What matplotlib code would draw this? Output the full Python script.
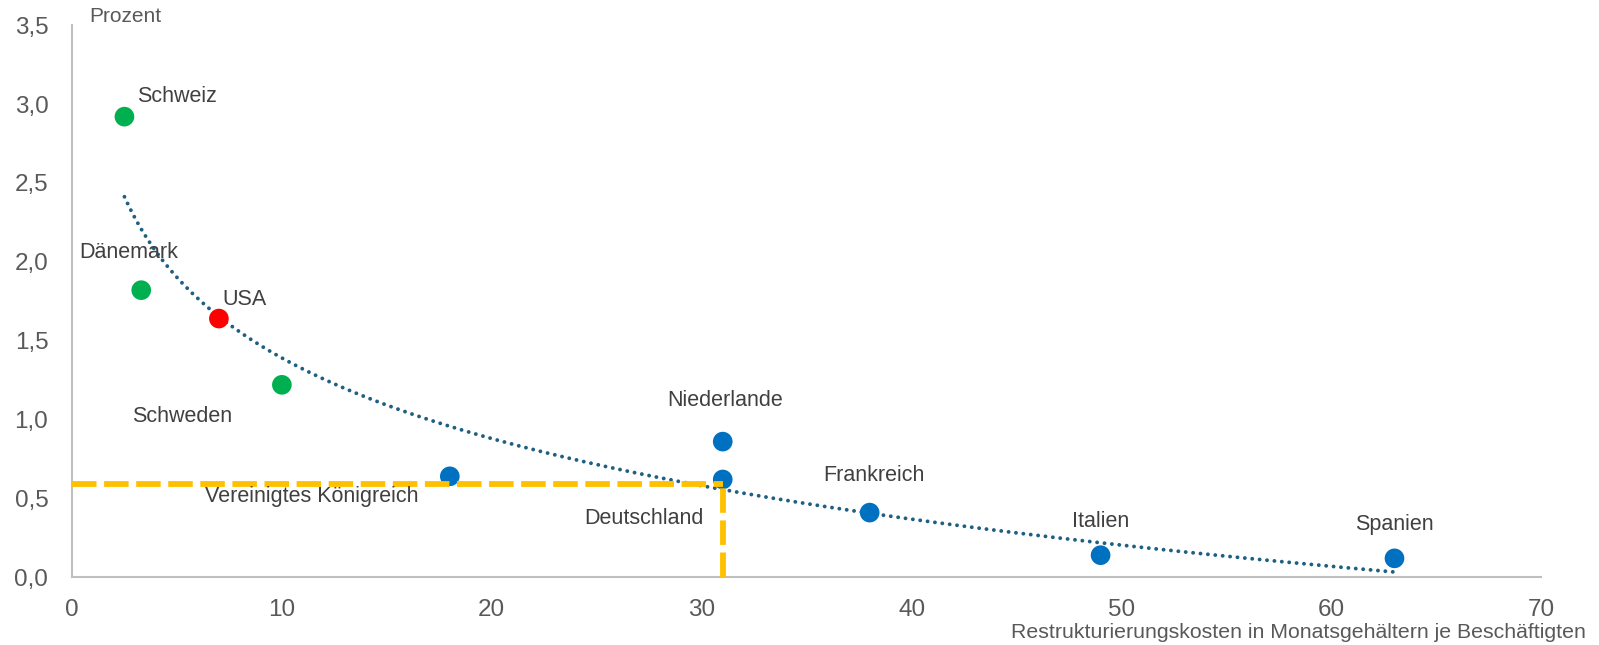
import numpy as np
import matplotlib
matplotlib.use('Agg')
import matplotlib.pyplot as plt

# Restrukturierungskosten (Monatsgehälter) vs. Prozent
countries = ['Schweiz', 'Dänemark', 'USA', 'Schweden', 'Vereinigtes Königreich',
             'Niederlande', 'Deutschland', 'Frankreich', 'Italien', 'Spanien']
kosten = [2.5, 3.3, 7.0, 10.0, 18.0, 31.0, 31.0, 38.0, 49.0, 63.0]
prozent = [2.92, 1.82, 1.64, 1.22, 0.64, 0.86, 0.62, 0.41, 0.14, 0.12]
groups = ['g', 'g', 'r', 'g', 'b', 'b', 'b', 'b', 'b', 'b']

# label anchor (x, y, ha)
label_pos = {'Schweiz': (3.1, 3.05, 'left'),
             'Dänemark': (0.35, 2.06, 'left'),
             'USA': (7.15, 1.76, 'left'),
             'Schweden': (2.85, 1.02, 'left'),
             'Vereinigtes Königreich': (6.35, 0.51, 'left'),
             'Niederlande': (31.1, 1.12, 'center'),
             'Deutschland': (30.1, 0.375, 'right'),
             'Frankreich': (38.2, 0.645, 'center'),
             'Italien': (49.0, 0.355, 'center'),
             'Spanien': (63.0, 0.335, 'center')}

ref_x, ref_y = 31.0, 0.59

colors = {'g': '#00B050', 'r': '#FF0000', 'b': '#0070C0'}

plt.rcParams.update({'font.family': ['Liberation Sans', 'DejaVu Sans'],
                     'font.size': 15})

fig = plt.figure(figsize=(15.99, 6.45), dpi=100)
ax = fig.add_axes([0.045, 0.105, 0.919, 0.856])

x = np.array(kosten)
y = np.array(prozent)

# logarithmic trend line (as in Excel)
b, a = np.polyfit(np.log(x), y, 1)
xt = np.linspace(x.min(), x.max(), 300)
ax.plot(xt, a + b * np.log(xt), color='#1F5F82', lw=2.8,
        linestyle=(0, (0.01, 1.9)), dash_capstyle='round', zorder=2)

ax.scatter(x, y, s=200, c=[colors[g] for g in groups], edgecolors='none', zorder=3)

# reference lines for Deutschland
ax.plot([0, ref_x], [ref_y, ref_y], color='#FFC000', lw=4.2, dashes=(4.2, 1.3), zorder=4)
ax.plot([ref_x, ref_x], [0, ref_y], color='#FFC000', lw=4.2, dashes=(4.2, 1.3), zorder=4)

for c in countries:
    lx, ly, ha = label_pos[c]
    ax.text(lx, ly, c, ha=ha, va='center', fontsize=15.5, color='#404040', zorder=5)

ax.set_xlim(0, 70)
ax.set_ylim(0, 3.5)
ax.set_xticks(np.arange(0, 71, 10))
ax.set_yticks(np.arange(0, 3.51, 0.5))
ax.set_yticklabels([f'{v:.1f}'.replace('.', ',') for v in np.arange(0, 3.51, 0.5)])
ax.tick_params(length=0, labelsize=17.5, colors='#595959')
ax.tick_params(axis='y', pad=17)
ax.tick_params(axis='x', pad=16)
for s in ['top', 'right']:
    ax.spines[s].set_visible(False)
for s in ['left', 'bottom']:
    ax.spines[s].set_color('#BFBFBF')
    ax.spines[s].set_linewidth(1.5)

fig.text(89 / 1599, 1 - 17 / 645, 'Prozent', ha='left', va='center', fontsize=15, color='#595959')
fig.text(1586 / 1599, 1 - 632 / 645, 'Restrukturierungskosten in Monatsgehältern je Beschäftigten',
         ha='right', va='center', fontsize=15.3, color='#595959')

fig.savefig('out.png', dpi=100)
